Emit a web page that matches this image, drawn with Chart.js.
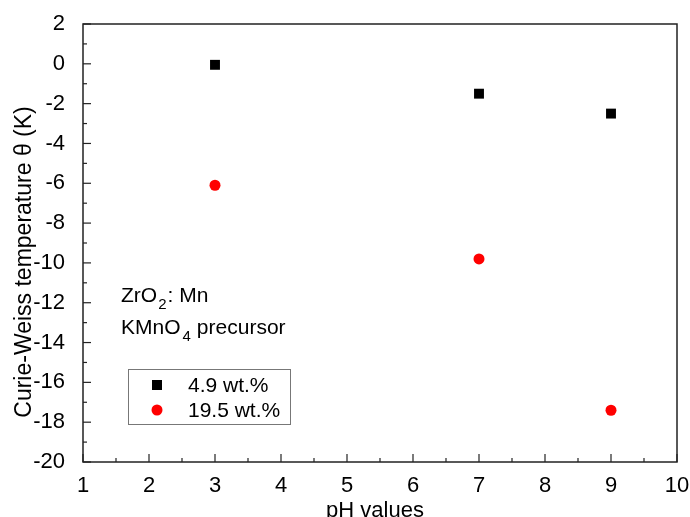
<!DOCTYPE html>
<html>
<head>
<meta charset="utf-8">
<script src="https://cdn.jsdelivr.net/npm/chart.js@4.4.0/dist/chart.umd.min.js"></script>
<style>
html,body{margin:0;padding:0;background:#fff;}
#wrap{width:690px;height:517px;}
</style>
</head>
<body>
<div id="wrap"><canvas id="c" width="690" height="517"></canvas></div>
<script>
const phValues = [3, 7, 9];
const series49 = [-0.05, -1.5, -2.5];
const series195 = [-6.1, -9.8, -17.4];
const seriesNames = ['4.9 wt.%', '19.5 wt.%'];
const xTitle = 'pH values';
const yTitle = 'Curie-Weiss temperature \u03B8 (K)';
const FONT = '"Liberation Sans", Arial, sans-serif';

const frame = {
  id: 'frame',
  afterDraw(chart) {
    const {ctx, chartArea: a, scales: {x, y}} = chart;
    ctx.save();
    ctx.strokeStyle = '#222';
    ctx.lineWidth = 1.5;
    ctx.strokeRect(a.left, a.top, a.right - a.left, a.bottom - a.top);
    ctx.lineWidth = 1.2;
    const xt = x.ticks.map(t => t.value);
    xt.forEach((v, i) => {
      const px = x.getPixelForValue(v);
      ctx.beginPath(); ctx.moveTo(px, a.bottom); ctx.lineTo(px, a.bottom - 8); ctx.stroke();
      if (i < xt.length - 1) {
        const mx = x.getPixelForValue((v + xt[i + 1]) / 2);
        ctx.beginPath(); ctx.moveTo(mx, a.bottom); ctx.lineTo(mx, a.bottom - 4); ctx.stroke();
      }
    });
    const yt = y.ticks.map(t => t.value);
    yt.forEach((v, i) => {
      const py = y.getPixelForValue(v);
      ctx.beginPath(); ctx.moveTo(a.left, py); ctx.lineTo(a.left + 8, py); ctx.stroke();
      if (i < yt.length - 1) {
        const my = y.getPixelForValue((v + yt[i + 1]) / 2);
        ctx.beginPath(); ctx.moveTo(a.left, my); ctx.lineTo(a.left + 4, my); ctx.stroke();
      }
    });
    ctx.fillStyle = '#000';
    // axis titles
    ctx.font = '22px ' + FONT;
    ctx.textAlign = 'center';
    ctx.textBaseline = 'alphabetic';
    ctx.fillText(xTitle, 375, 517);
    ctx.save();
    ctx.font = '23px ' + FONT;
    ctx.translate(31, 262);
    ctx.rotate(-Math.PI / 2);
    ctx.fillText(yTitle, 0, 0);
    ctx.restore();
    // annotation text
    ctx.textAlign = 'left';
    const big = '21px ' + FONT, small = '15px ' + FONT;
    function sub(parts, x0, yb) {
      let cx = x0;
      parts.forEach(p => {
        ctx.font = p.s ? small : big;
        cx += (p.gap || 0);
        ctx.fillText(p.t, cx, yb + (p.s ? 7 : 0));
        cx += ctx.measureText(p.t).width;
      });
    }
    sub([{t:'ZrO'},{t:'2',s:1,gap:1},{t:': Mn',gap:1}], 121, 302);
    sub([{t:'KMnO'},{t:'4',s:1,gap:2},{t:'precursor',gap:6}], 121, 334);
    // legend box
    ctx.strokeStyle = '#777';
    ctx.lineWidth = 1;
    ctx.strokeRect(128.5, 369.5, 162, 55);
    chart.data.datasets.forEach((ds, i) => {
      const yy = 385 + i * 25;
      ctx.fillStyle = ds.backgroundColor;
      if (ds.pointStyle === 'rect') {
        ctx.fillRect(157 - 5, yy - 5, 10, 10);
      } else {
        ctx.beginPath(); ctx.arc(157, yy, 5.5, 0, Math.PI * 2); ctx.fill();
      }
      ctx.fillStyle = '#000';
      ctx.font = big;
      ctx.textBaseline = 'middle';
      ctx.fillText(ds.label, 188, yy + 1);
    });
    ctx.restore();
  }
};

new Chart(document.getElementById('c'), {
  type: 'scatter',
  data: {
    datasets: [
      {label: seriesNames[0], data: phValues.map((p, i) => ({x: p, y: series49[i]})),
       pointStyle: 'rect', radius: 7, backgroundColor: '#000', borderColor: '#000', borderWidth: 0},
      {label: seriesNames[1], data: phValues.map((p, i) => ({x: p, y: series195[i]})),
       pointStyle: 'circle', radius: 5.5, backgroundColor: '#ff0000', borderColor: '#ff0000', borderWidth: 0}
    ]
  },
  plugins: [frame, {id:'bg', beforeDraw(c){const x=c.ctx;x.save();x.fillStyle='#fff';x.fillRect(0,0,c.width,c.height);x.restore();}}],
  options: {
    responsive: false,
    animation: false,
    layout: {padding: {left: 0, right: 13, top: 24, bottom: 0}},
    plugins: {legend: {display: false}, tooltip: {enabled: false}},
    scales: {
      x: {
        type: 'linear', min: 1, max: 10,
        border: {display: false},
        grid: {display: false},
        ticks: {stepSize: 1, color: '#000', font: {family: FONT, size: 22}, padding: 3, maxRotation: 0},
        afterFit(s) { s.height = 55; s.paddingRight = 0; s.paddingLeft = 0; }
      },
      y: {
        type: 'linear', min: -20, max: 2,
        border: {display: false},
        grid: {display: false},
        ticks: {stepSize: 2, color: '#000', font: {family: FONT, size: 22}, padding: 10},
        afterFit(s) { s.width = 83; s.paddingTop = 0; s.paddingBottom = 0; }
      }
    }
  }
});
</script>
</body>
</html>
